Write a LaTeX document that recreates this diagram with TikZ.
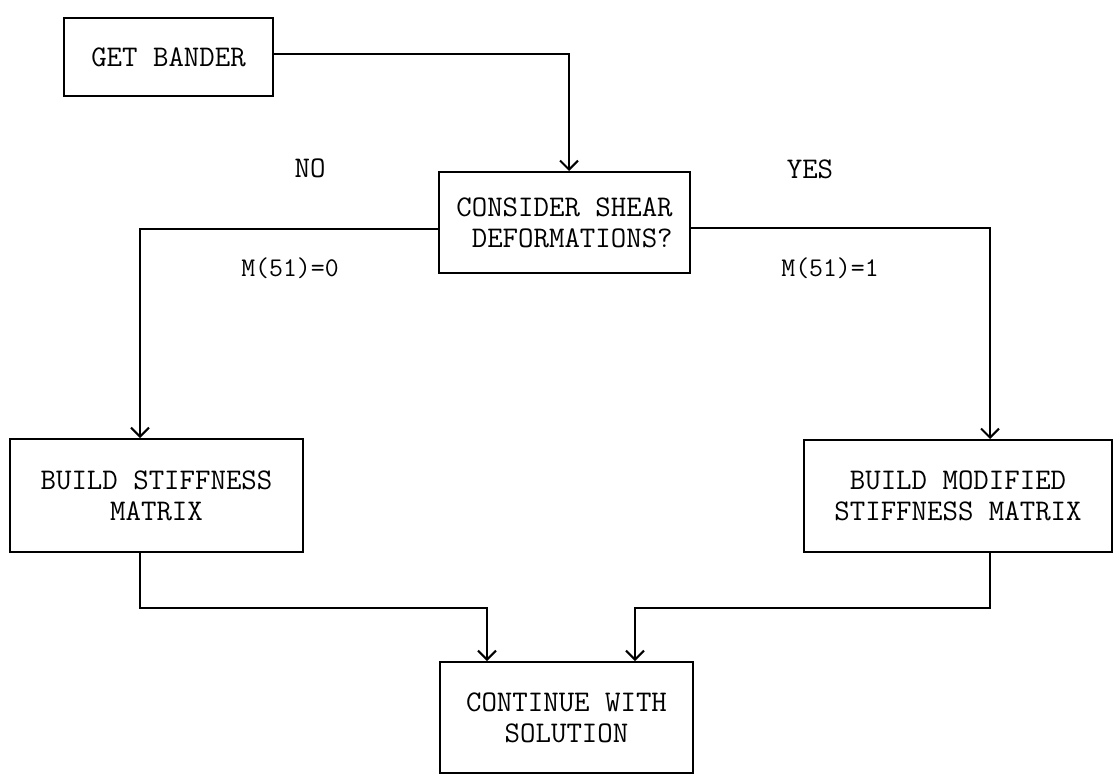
\documentclass[tikz,border=0pt]{standalone}
\usepackage{fontspec}
\usetikzlibrary{arrows.meta}
\begin{document}
\begin{tikzpicture}[x=1pt,y=-1pt,
  every node/.style={font=\ttfamily\fontsize{30}{31}\selectfont},
  box/.style={draw, line width=2pt, inner sep=0pt, align=center},
  lbl/.style={inner sep=0pt},
  mlbl/.style={inner sep=0pt, font=\ttfamily\fontsize{27}{29}\selectfont},
  arr/.style={line width=2pt, -{Straight Barb[length=9pt,width=18pt,line width=2pt]}}]
\useasboundingbox (0,0) rectangle (1115,782);
\node[box, minimum width=209pt, minimum height=78pt] (gb) at (168.5,57) {GET BANDER};
\node[box, minimum width=251pt, minimum height=101pt, align=right] (cs) at (564.5,222.5) {CONSIDER SHEAR\\DEFORMATIONS?};
\node[box, minimum width=293pt, minimum height=113pt] (bs) at (156.5,495.5) {BUILD STIFFNESS\\MATRIX};
\node[box, minimum width=308pt, minimum height=112pt] (bm) at (958,496) {BUILD MODIFIED\\STIFFNESS MATRIX};
\node[box, minimum width=253pt, minimum height=111pt] (ct) at (566.5,717.5) {CONTINUE WITH\\SOLUTION};
\node[lbl] (no) at (310,168) {NO};
\node[lbl] (yes) at (810,169) {YES};
\node[mlbl] (m0) at (290,268) {M(51)=0};
\node[mlbl] (m1) at (830,268) {M(51)=1};
\coordinate (p1) at (569,54);
\draw[arr] (gb.east |- p1) -| (cs.north -| p1);
\coordinate (p2) at (140,229);
\draw[arr] (cs.west |- p2) -| (bs.north -| p2);
\coordinate (p3) at (990,228);
\draw[arr] (cs.east |- p3) -| (bm.north -| p3);
\coordinate (p4) at (140,608);
\coordinate (p5) at (487,608);
\draw[arr] (bs.south -| p4) |- (p5) -- (ct.north -| p5);
\coordinate (p6) at (990,608);
\coordinate (p7) at (635,608);
\draw[arr] (bm.south -| p6) |- (p7) -- (ct.north -| p7);
\end{tikzpicture}
\end{document}
